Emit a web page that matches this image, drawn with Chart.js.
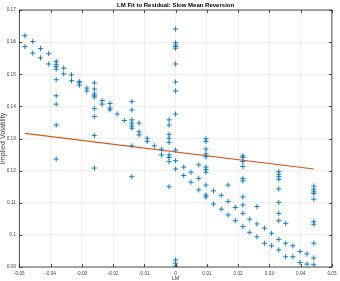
<!DOCTYPE html>
<html>
<head>
<meta charset="utf-8">
<script src="https://cdn.jsdelivr.net/npm/chart.js@4.4.0/dist/chart.umd.min.js"></script>
<style>
  html, body { margin: 0; padding: 0; background: #fff; overflow: hidden; }
  #wrap { width: 340px; height: 281px; }
</style>
</head>
<body>
<div id="wrap"><canvas id="c" width="340" height="281"></canvas></div>
<script>
// LM columns and the implied vols read in each column
const lmColumns = [
  -0.0482, -0.0457, -0.0432, -0.0406, -0.0382, -0.0358, -0.0333, -0.0308,
  -0.0284, -0.026, -0.0235, -0.021, -0.0187, -0.0164, -0.014, -0.0117,
  -0.0091, -0.0068, -0.0045, -0.0021, 0, 0.0026, 0.0049, 0.0074, 0.0097,
  0.0121, 0.0146, 0.0168, 0.0191, 0.0215, 0.0237, 0.026, 0.0284, 0.0307,
  0.033, 0.0352, 0.0375, 0.0398, 0.042, 0.0442
];
const volColumns = [
  [0.1620, 0.1586],
  [0.1602, 0.1566],
  [0.1580, 0.1551],
  [0.1564, 0.1532],
  [0.1540, 0.1531, 0.1524, 0.1516, 0.1483, 0.1433, 0.1407, 0.1342, 0.1236],
  [0.1519, 0.1501],
  [0.1498, 0.1480],
  [0.1477, 0.1473, 0.1466],
  [0.1457, 0.1448],
  [0.1473, 0.1454, 0.1439, 0.1433, 0.1429, 0.1393, 0.1368, 0.1309, 0.1208],
  [0.1418, 0.1407],
  [0.1409, 0.1395, 0.1389],
  [0.1376],
  [0.1356],
  [0.1415, 0.1389, 0.1358, 0.1348, 0.1339, 0.1332, 0.1277, 0.1181],
  [0.1348, 0.1321, 0.1311],
  [0.1301, 0.1291],
  [0.1277],
  [0.1267, 0.1249],
  [0.1358, 0.1342, 0.1313, 0.1301, 0.1288, 0.1249, 0.1241, 0.1228, 0.1150],
  [0.1641, 0.1598, 0.1591, 0.1586, 0.1581, 0.1532, 0.1476, 0.1448, 0.1376, 0.1264, 0.1231, 0.1205, 0.0922, 0.0912, 0.0903],
  [0.1211, 0.1185],
  [0.1195, 0.1164],
  [0.1218, 0.1176, 0.1140],
  [0.1299, 0.1291, 0.1267, 0.1252, 0.1243, 0.1211, 0.1203, 0.1195, 0.1155, 0.1124, 0.1118],
  [0.1137, 0.1096],
  [0.1123, 0.1080],
  [0.1155, 0.1104, 0.1062],
  [0.1085, 0.1044],
  [0.1246, 0.1241, 0.1228, 0.1213, 0.1176, 0.1168, 0.1118, 0.1093, 0.1067, 0.1026],
  [0.1049, 0.1008],
  [0.1088, 0.1034, 0.0994],
  [0.1021, 0.0974],
  [0.1005, 0.0966],
  [0.1197, 0.1189, 0.1181, 0.1173, 0.1143, 0.1101, 0.1067, 0.1044, 0.0986, 0.0953],
  [0.1036, 0.0974, 0.0932],
  [0.0966, 0.0932],
  [0.0948, 0.0914],
  [0.0941, 0.0909],
  [0.1152, 0.1142, 0.1134, 0.1129, 0.1111, 0.1041, 0.1033, 0.0974, 0.0928, 0.0907]
];
// fitted line ends
const fitLm = [-0.0482, 0.0442];
const fitVol = [0.1316, 0.1205];

const xTicks = [-0.05, -0.04, -0.03, -0.02, -0.01, 0, 0.01, 0.02, 0.03, 0.04, 0.05];
const yTicks = [0.09, 0.1, 0.11, 0.12, 0.13, 0.14, 0.15, 0.16, 0.17];

const points = [];
lmColumns.forEach((x, i) => {
  volColumns[i].forEach(v => points.push({ x: x, y: v }));
});
const fitPoints = fitLm.map((x, i) => ({ x: x, y: fitVol[i] }));

function fmt(v) {
  return String(Number(v.toFixed(2)));
}

// MATLAB-like box with inward ticks
const boxPlugin = {
  id: 'box',
  afterDraw(chart) {
    const { ctx, chartArea: a, scales } = chart;
    ctx.save();
    ctx.strokeStyle = '#262626';
    ctx.lineWidth = 0.8;
    ctx.beginPath();
    xTicks.forEach(t => {
      const px = Math.round(scales.x.getPixelForValue(t)) + 0.5;
      ctx.moveTo(px, a.bottom); ctx.lineTo(px, a.bottom - 3);
      ctx.moveTo(px, a.top); ctx.lineTo(px, a.top + 3);
    });
    yTicks.forEach(t => {
      const py = Math.round(scales.y.getPixelForValue(t)) + 0.5;
      ctx.moveTo(a.left, py); ctx.lineTo(a.left + 3, py);
      ctx.moveTo(a.right, py); ctx.lineTo(a.right - 3, py);
    });
    ctx.stroke();
    ctx.strokeRect(a.left, a.top, a.right - a.left, a.bottom - a.top);
    ctx.restore();
  }
};

new Chart(document.getElementById('c'), {
  type: 'scatter',
  data: {
    datasets: [
      {
        label: 'data',
        data: points,
        pointStyle: 'cross',
        radius: 2.6,
        borderWidth: 0.9,
        borderColor: '#0072BD',
        backgroundColor: '#0072BD'
      },
      {
        label: 'fit',
        type: 'line',
        data: fitPoints,
        borderColor: '#D95319',
        borderWidth: 1.2,
        pointRadius: 0,
        fill: false
      }
    ]
  },
  options: {
    responsive: false,
    animation: false,
    layout: { padding: { left: 0, right: 5, top: 0, bottom: 0 } },
    plugins: {
      legend: { display: false },
      tooltip: { enabled: false },
      title: {
        display: true,
        fullSize: false,
        text: 'LM Fit to Residual: Slow Mean Reversion',
        color: '#000',
        font: { family: 'Liberation Sans, Arial, sans-serif', size: 6, weight: 'bold' },
        padding: { top: 1.4, bottom: 1.4 }
      }
    },
    scales: {
      x: {
        type: 'linear',
        min: -0.05,
        max: 0.05,
        afterBuildTicks: s => { s.ticks = xTicks.map(v => ({ value: v })); },
        afterFit: s => { s.height = 14; },
        ticks: {
          callback: v => fmt(v),
          color: '#404040',
          padding: 3.5,
          maxRotation: 0,
          font: { family: 'Liberation Sans, Arial, sans-serif', size: 4.7 }
        },
        grid: { color: 'rgba(0,0,0,0.1)', lineWidth: 0.6, drawTicks: false },
        border: { display: false },
        title: {
          display: true,
          text: 'LM',
          color: '#404040',
          font: { family: 'Liberation Sans, Arial, sans-serif', size: 5.5 },
          padding: { top: 0, bottom: -0.8 }
        }
      },
      y: {
        type: 'linear',
        min: 0.09,
        max: 0.17,
        afterBuildTicks: s => { s.ticks = yTicks.map(v => ({ value: v })); },
        afterFit: s => { s.width = 19.3; },
        ticks: {
          callback: v => fmt(v),
          color: '#404040',
          padding: 3.5,
          font: { family: 'Liberation Sans, Arial, sans-serif', size: 4.7 }
        },
        grid: { color: 'rgba(0,0,0,0.1)', lineWidth: 0.6, drawTicks: false },
        border: { display: false },
        title: {
          display: true,
          text: 'Implied Volatility',
          color: '#404040',
          font: { family: 'Liberation Sans, Arial, sans-serif', size: 7.2 },
          padding: { top: -1, bottom: 0 }
        }
      }
    }
  },
  plugins: [boxPlugin]
});
</script>
</body>
</html>
